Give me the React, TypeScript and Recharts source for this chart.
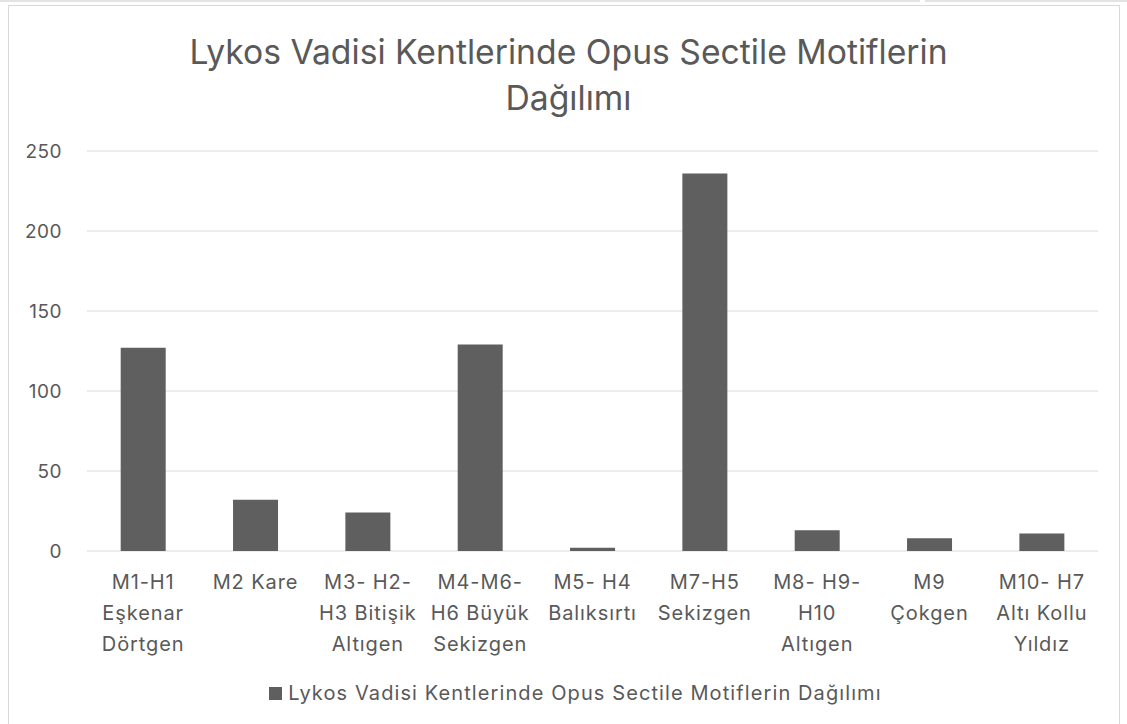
import React from 'react';
import { BarChart, Bar, XAxis, YAxis, CartesianGrid, Legend } from 'recharts';

const categories = [
  'M1-H1\nEşkenar\nDörtgen',
  'M2 Kare',
  'M3- H2-\nH3 Bitişik\nAltıgen',
  'M4-M6-\nH6 Büyük\nSekizgen',
  'M5- H4\nBalıksırtı',
  'M7-H5\nSekizgen',
  'M8- H9-\nH10\nAltıgen',
  'M9\nÇokgen',
  'M10- H7\nAltı Kollu\nYıldız',
];
const counts = [127, 32, 24, 129, 2, 236, 13, 8, 11];
const yTicks = [0, 50, 100, 150, 200, 250];

const seriesName = 'Lykos Vadisi Kentlerinde Opus Sectile Motiflerin Dağılımı';
const titleLines = ['Lykos Vadisi Kentlerinde Opus Sectile Motiflerin', 'Dağılımı'];

const data = categories.map((name, i) => ({ name, value: counts[i] }));

const FONT = 'Inter, "Liberation Sans", Arial, sans-serif';
const TEXT = '#595959';
const BAR = '#5f5f5f';

function CategoryTick(props: any) {
  const { x, y, payload } = props;
  const lines = String(payload.value).split('\n');
  return (
    <g transform={`translate(${x},${y})`}>
      <text textAnchor="middle" fill={TEXT} fontSize={20} fontFamily={FONT} letterSpacing={0.9}>
        {lines.map((ln, i) => (
          <tspan key={i} x={0} dy={i === 0 ? 30 : 31}>
            {ln}
          </tspan>
        ))}
      </text>
    </g>
  );
}

function LegendBox() {
  return (
    <div
      style={{
        display: 'flex',
        justifyContent: 'center',
        alignItems: 'center',
        fontFamily: FONT,
        fontSize: 20,
        letterSpacing: 1.1,
        color: TEXT,
      }}
    >
      <span style={{ width: 13, height: 13, background: BAR, marginRight: 6, display: 'inline-block' }} />
      <span>{seriesName}</span>
    </div>
  );
}

export default function App() {
  return (
    <div
      style={{
        position: 'absolute',
        left: 0,
        top: 0,
        width: 1127,
        height: 724,
        overflow: 'hidden',
        background: '#fff',
      }}
    >
      <div style={{ position: 'absolute', left: 0, top: 0, width: 920, height: 2, background: '#e3e3e3' }} />
      <div style={{ position: 'absolute', left: 925, top: 0, width: 202, height: 2, background: '#e3e3e3' }} />
      <div
        style={{
          position: 'absolute',
          left: 8,
          top: 5,
          width: 1110,
          height: 740,
          border: '1px solid #d9d9d9',
        }}
      />
      <div
        style={{
          position: 'absolute',
          left: 0,
          top: 29,
          width: 1137,
          textAlign: 'center',
          fontFamily: FONT,
          fontSize: 33.7,
          lineHeight: '46px',
          color: TEXT,
        }}
      >
        {titleLines.map((t) => (
          <div key={t}>{t}</div>
        ))}
      </div>
      <div style={{ position: 'absolute', left: 0, top: 0 }}>
        <BarChart
          width={1127}
          height={724}
          data={data}
          margin={{ top: 151, right: 29, left: 0, bottom: 0 }}
          barCategoryGap="30%"
        >
          <CartesianGrid vertical={false} stroke="#d9d9d9" strokeWidth={1} />
          <XAxis
            dataKey="name"
            interval={0}
            axisLine={false}
            tickLine={false}
            height={149}
            tick={<CategoryTick />}
          />
          <YAxis
            domain={[0, 250]}
            ticks={yTicks}
            width={87}
            axisLine={false}
            tickLine={false}
            tickSize={0}
            tickMargin={25}
            tick={{ fill: TEXT, fontSize: 19, fontFamily: FONT, letterSpacing: 0.5 }}
          />
          <Legend
            content={<LegendBox />}
            wrapperStyle={{ position: 'absolute', top: 681, left: 12, width: 1127 }}
          />
          <Bar dataKey="value" name={seriesName} fill={BAR} isAnimationActive={false} />
        </BarChart>
      </div>
    </div>
  );
}
